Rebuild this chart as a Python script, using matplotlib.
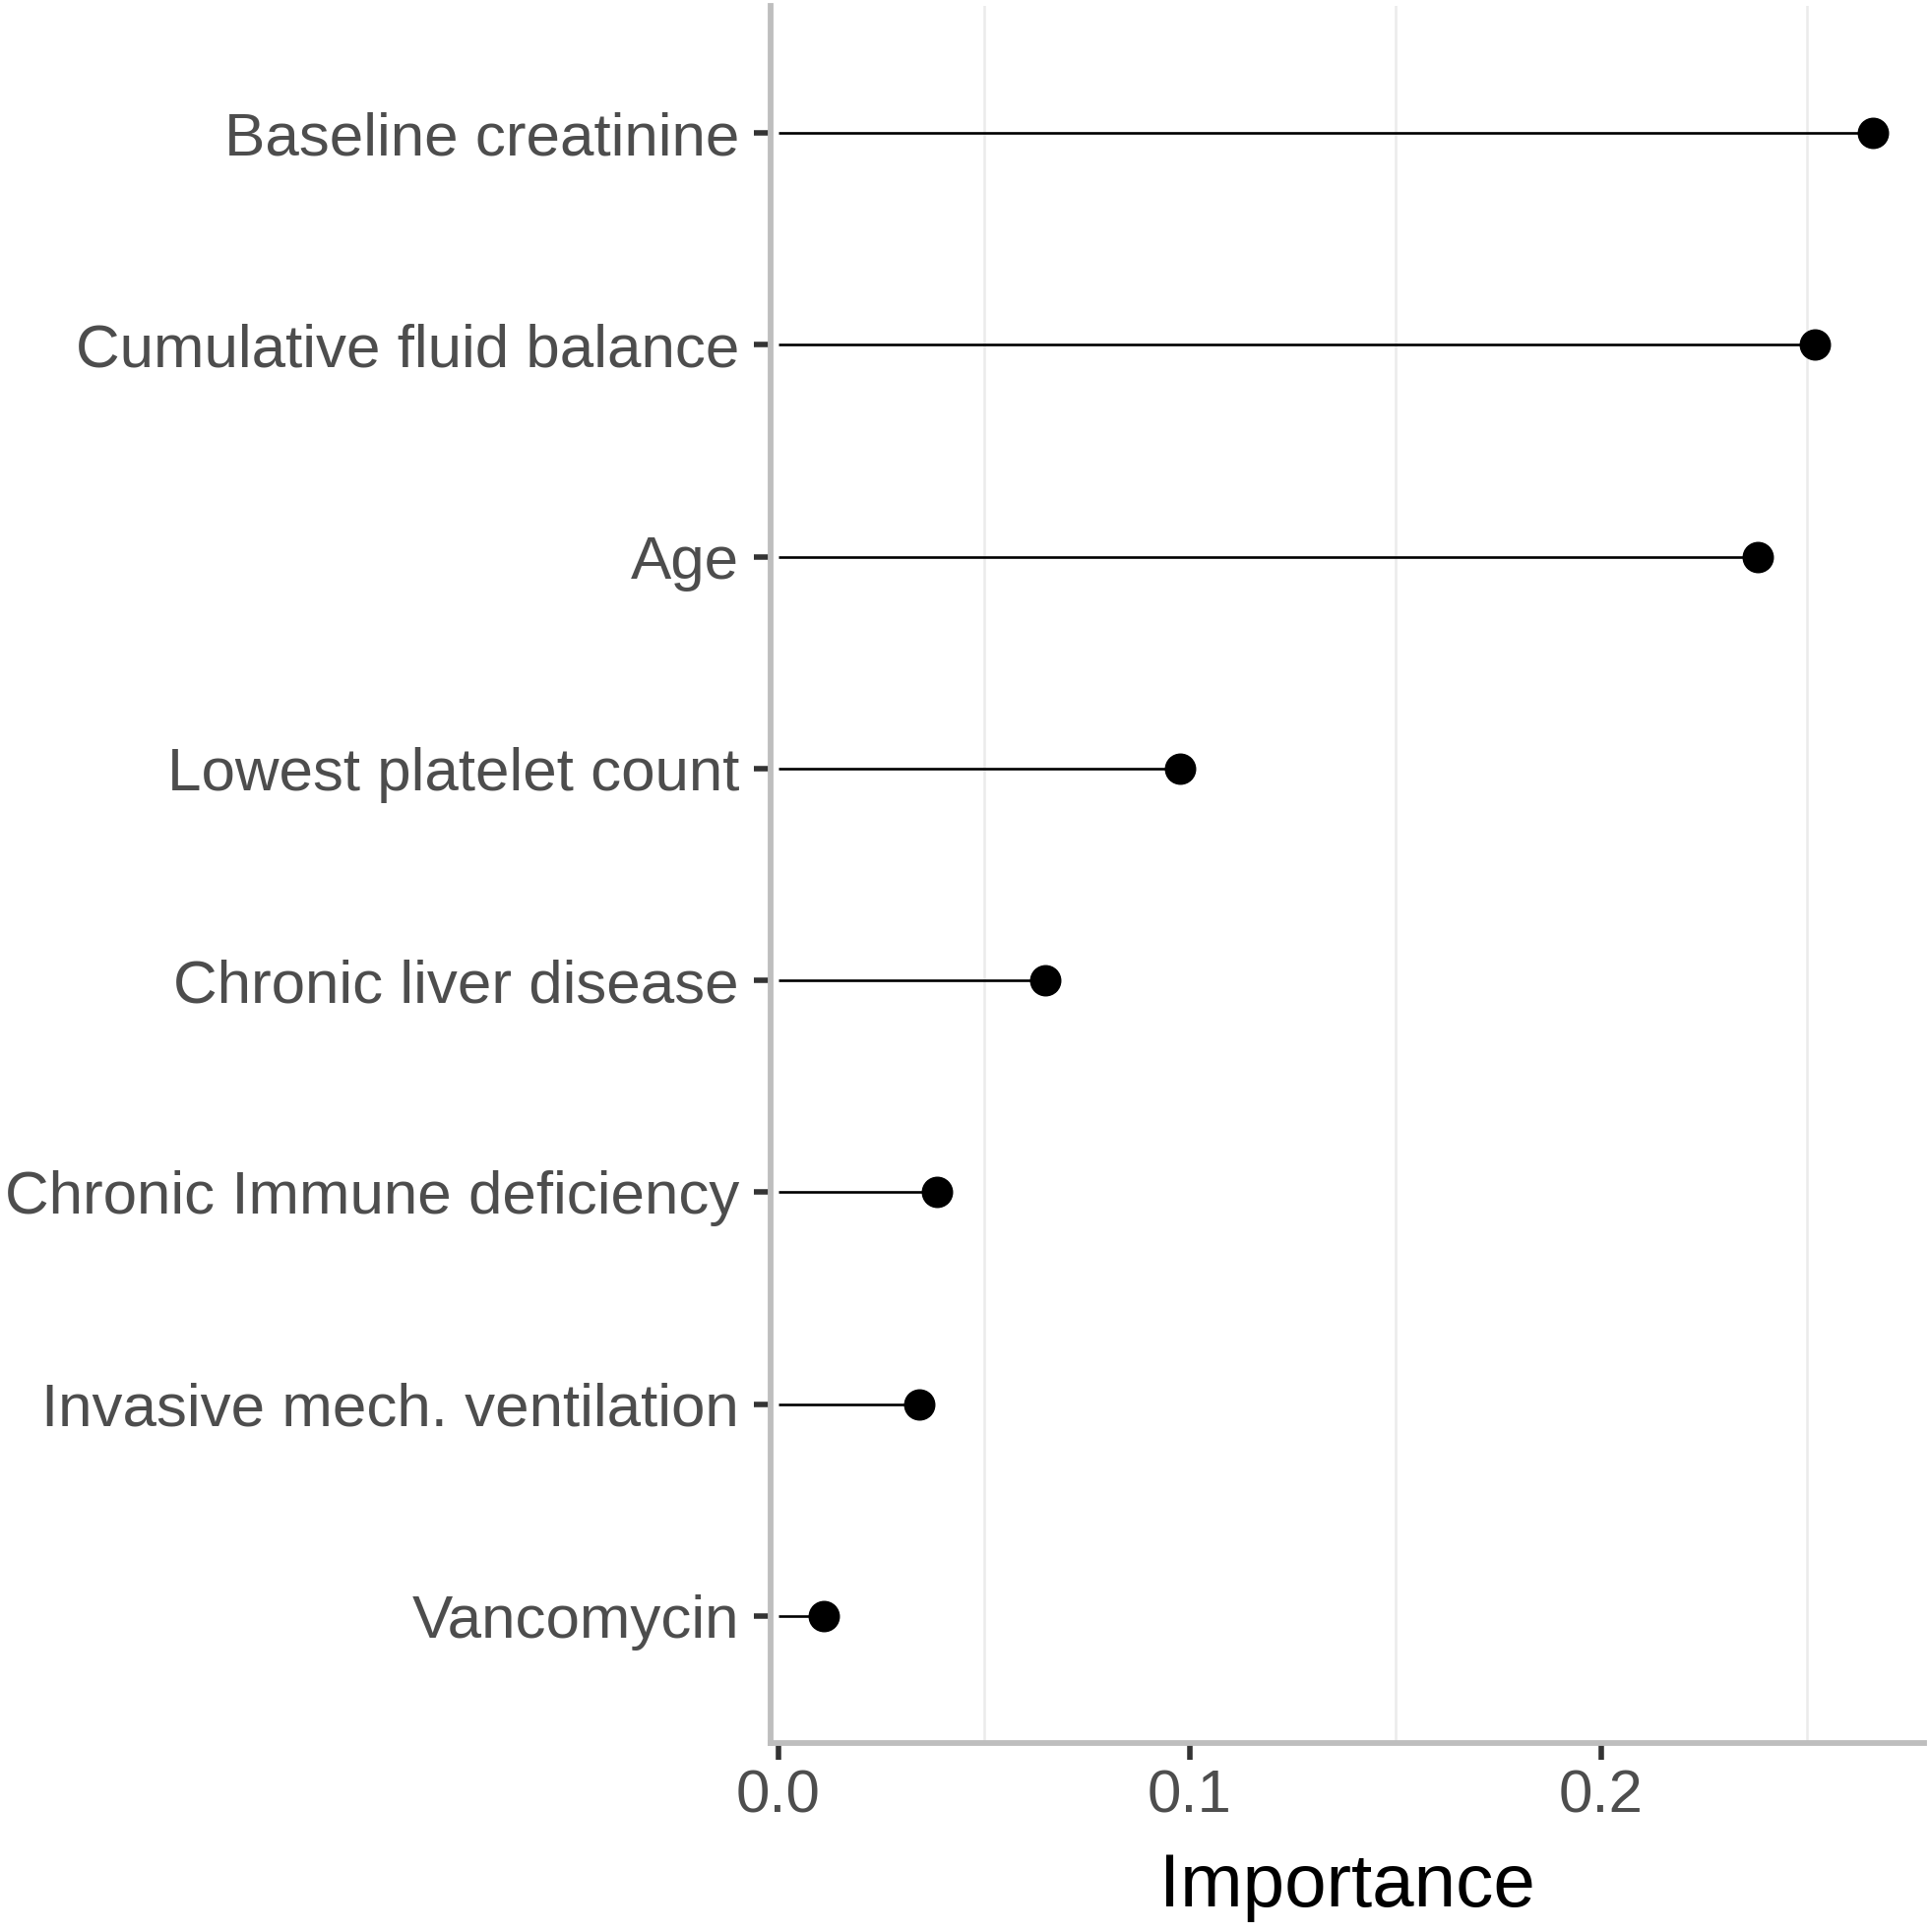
import numpy as np
import matplotlib
matplotlib.use('Agg')
import matplotlib.pyplot as plt

plt.rcParams['font.family'] = ['Liberation Sans', 'DejaVu Sans']

# features, top to bottom
features = ['Baseline creatinine', 'Cumulative fluid balance', 'Age',
            'Lowest platelet count', 'Chronic liver disease',
            'Chronic Immune deficiency', 'Invasive mech. ventilation',
            'Vancomycin']
importance = [0.266, 0.252, 0.238, 0.0976, 0.065, 0.0386, 0.0344, 0.0111]
xticks = [0.0, 0.1, 0.2]
xtick_labels = ['0.0', '0.1', '0.2']
grid_x = [0.05, 0.15, 0.25]

fig = plt.figure(figsize=(19.6, 19.63), dpi=100)
ax = fig.add_axes([0.3995, 0.0978, 0.5979, 0.8992])

n = len(features)
ypos = np.arange(n, 0, -1)

ax.hlines(ypos, 0, importance, color='black', linewidth=1.9, zorder=3)
ax.plot(importance, ypos, 'o', color='black', markersize=22, zorder=4)

ax.set_ylim(0.4, n + 0.6)
ax.set_xlim(-0.0018, 0.2784)
ax.set_yticks(ypos)
ax.set_yticklabels(features)
ax.set_xticks(xticks)
ax.set_xticklabels(xtick_labels)

# only the in-between vertical gridlines, like the original
for v in grid_x:
    ax.axvline(v, color='#EBEBEB', linewidth=1.8, zorder=1)

for s in ['top', 'right']:
    ax.spines[s].set_visible(False)
for s in ['left', 'bottom']:
    ax.spines[s].set_color('#BEBEBE')
    ax.spines[s].set_linewidth(4.2)
    ax.spines[s].set_capstyle('projecting')

ax.tick_params(axis='both', which='major', length=12, width=4,
               color='#333333', labelcolor='#4D4D4D', labelsize=44.6)
ax.tick_params(axis='y', pad=11)
ax.tick_params(axis='x', pad=7)

ax.set_xlabel('Importance', fontsize=55, color='black', labelpad=20)

fig.savefig('out.png', dpi=100)
